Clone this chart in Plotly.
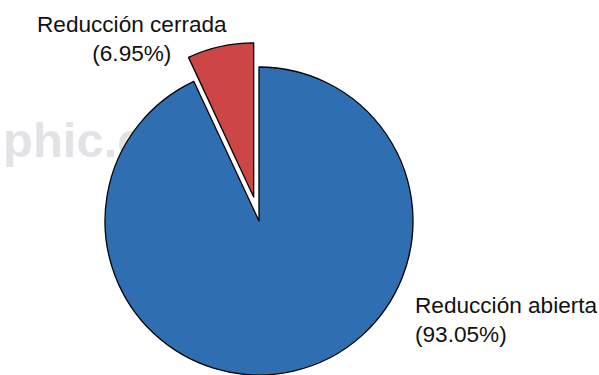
import math
import plotly.graph_objects as go

# ---- data ----
labels = ["Reducción abierta", "Reducción cerrada"]
values = [93.05, 6.95]
colors = ["#2f6eb0", "#cc4646"]
pull_fraction = [0.0, 0.16]
watermark = "phic.c"

# ---- layout geometry (pixels) ----
W, H = 599, 375
cx, cy, r = 259, 221, 154
transparent = "rgba(0,0,0,0)"


def domain_for(px, py):
    return dict(x=[(px - r) / W, (px + r) / W],
                y=[(H - (py + r)) / H, (H - (py - r)) / H])


# angle (clockwise from top) of each slice's bisector
total = sum(values)
starts = []
acc = 0.0
for v in values:
    starts.append(acc)
    acc += v
mids = [(s + v / 2) / total * 2 * math.pi for s, v in zip(starts, values)]

fig = go.Figure()
for i, (lab, val) in enumerate(zip(labels, values)):
    off = r * pull_fraction[i]
    px = cx + off * math.sin(mids[i])
    py = cy - off * math.cos(mids[i])
    mc = [colors[j] if j == i else transparent for j in range(len(values))]
    lw = [1.3 if j == i else 0 for j in range(len(values))]
    fig.add_trace(go.Pie(
        labels=labels, values=values, sort=False, direction="clockwise",
        rotation=0, textinfo="none", hoverinfo="skip", showlegend=False,
        marker=dict(colors=mc, line=dict(color="black", width=lw)),
        domain=domain_for(px, py),
    ))

font = dict(family="Liberation Sans, Arial, sans-serif", size=22.6, color="#111111")
label_pos = [  # (x px, y px top, anchor, align)
    (413, 291, "left", "left"),
    (132, 10, "center", "center"),
]
for (lab, val), (x, y, xa, al) in zip(zip(labels, values), label_pos):
    fig.add_annotation(
        text=f"{lab}<br>({val:.2f}%)", x=x / W, y=1 - y / H,
        xref="paper", yref="paper", xanchor=xa, yanchor="top", align=al,
        showarrow=False, font=font,
    )

# faint watermark drawn below the pie
fig.add_shape(
    type="rect", xref="paper", yref="paper", x0=0, x1=0.5,
    y0=1 - 170 / H, y1=1 - 100 / H,
    layer="below", line=dict(width=0), fillcolor=transparent,
    label=dict(text=watermark, textposition="middle left", padding=0,
               font=dict(family="Liberation Sans, Arial, sans-serif", weight="bold",
                         size=49, color="#e2e3e6")),
)

fig.update_layout(
    width=W, height=H, margin=dict(l=0, r=0, t=0, b=0),
    paper_bgcolor="white", plot_bgcolor="white",
)
fig.write_html("out.html")
